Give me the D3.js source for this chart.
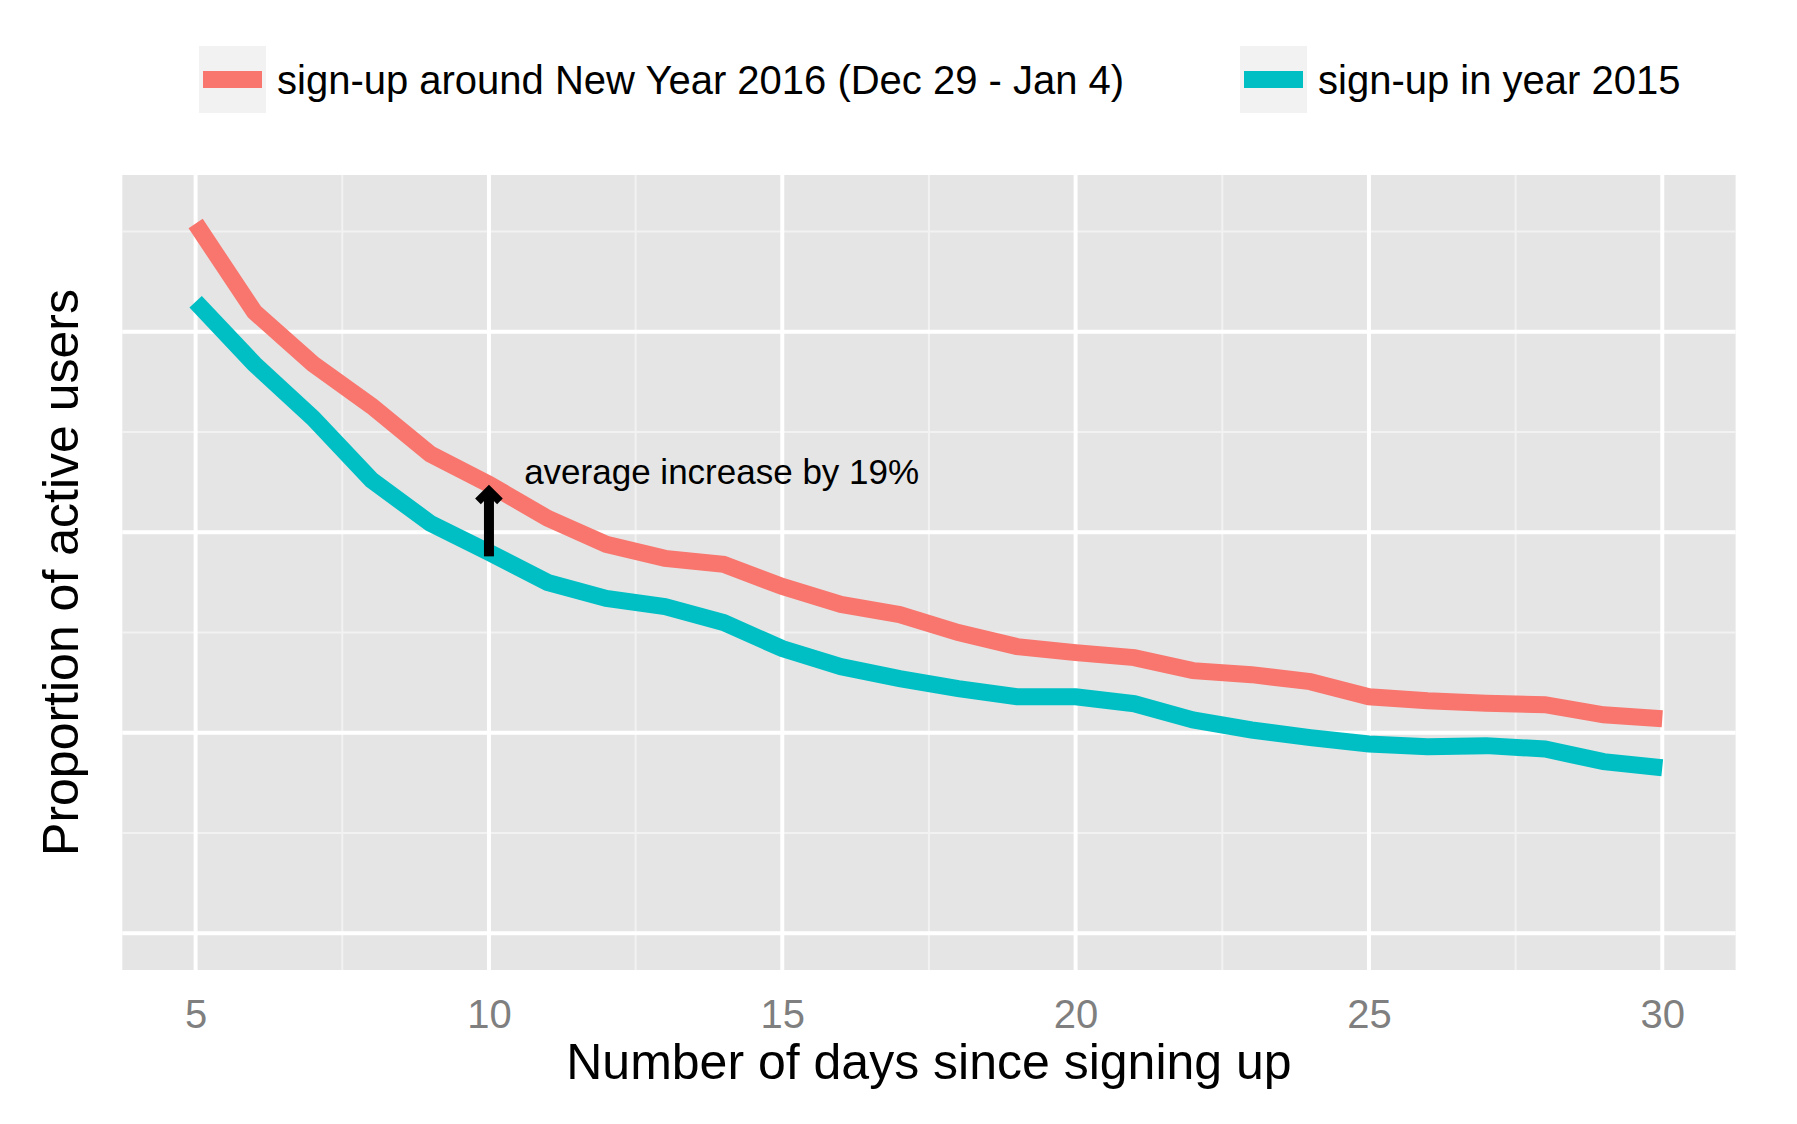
<!DOCTYPE html>
<html>
<head>
<meta charset="utf-8">
<script src="https://cdn.jsdelivr.net/npm/d3@7"></script>
<style>
  body { margin: 0; background: #fff; }
  text { font-family: "Liberation Sans", Arial, Helvetica, sans-serif; }
</style>
</head>
<body>
<script>
// data
var days = [5, 6, 7, 8, 9, 10, 11, 12, 13, 14, 15, 16, 17, 18, 19, 20, 21, 22, 23, 24, 25, 26, 27, 28, 29, 30];
var newYear2016 = [0.454, 0.410, 0.384, 0.363, 0.339, 0.324, 0.307, 0.294, 0.287, 0.284, 0.273, 0.264, 0.259,
                   0.250, 0.243, 0.240, 0.2375, 0.231, 0.229, 0.2255, 0.218, 0.216, 0.2147, 0.214, 0.209, 0.207];
var year2015 = [0.415, 0.384, 0.357, 0.326, 0.3045, 0.290, 0.275, 0.267, 0.263, 0.255, 0.242, 0.233, 0.227,
                0.222, 0.218, 0.218, 0.2145, 0.2064, 0.2014, 0.1976, 0.1944, 0.1931, 0.1936, 0.1919, 0.1856, 0.1826];
var seriesNames = ["sign-up around New Year 2016 (Dec 29 - Jan 4)", "sign-up in year 2015"];
var seriesColors = ["#F8766D", "#00BFC4"];
var xTicks = [5, 10, 15, 20, 25, 30];
var xMinorTicks = [7.5, 12.5, 17.5, 22.5, 27.5];
var yMajorTicks = [0.1, 0.2, 0.3, 0.4];
var yMinorTicks = [0.15, 0.25, 0.35, 0.45];
var xTitle = "Number of days since signing up";
var yTitle = "Proportion of active users";
var noteText = "average increase by 19%";
var noteDay = 10.6, noteValue = 0.324;
var arrowDay = 10, arrowFrom = 0.288, arrowTo = 0.3209;

var W = 1797, H = 1124;
var panel = { left: 122.3, right: 1735.6, top: 175, bottom: 970 };

var svg = d3.select(document.body).append("svg")
  .attr("width", W).attr("height", H);

var x = d3.scaleLinear().domain([3.75, 31.25]).range([panel.left, panel.right]);
var y = d3.scaleLinear().domain([0.0817, 0.4782]).range([panel.bottom, panel.top]);

// panel + grid
svg.append("rect")
  .attr("x", panel.left).attr("y", panel.top)
  .attr("width", panel.right - panel.left).attr("height", panel.bottom - panel.top)
  .attr("fill", "#E5E5E5");

function hLines(vals, color, w) {
  svg.append("g").selectAll("line").data(vals).enter().append("line")
    .attr("x1", panel.left).attr("x2", panel.right)
    .attr("y1", function(d) { return y(d); }).attr("y2", function(d) { return y(d); })
    .attr("stroke", color).attr("stroke-width", w);
}
function vLines(vals, color, w) {
  svg.append("g").selectAll("line").data(vals).enter().append("line")
    .attr("y1", panel.top).attr("y2", panel.bottom)
    .attr("x1", function(d) { return x(d); }).attr("x2", function(d) { return x(d); })
    .attr("stroke", color).attr("stroke-width", w);
}
hLines(yMinorTicks, "#F2F2F2", 2);
vLines(xMinorTicks, "#F2F2F2", 2);
hLines(yMajorTicks, "#FFFFFF", 4);
vLines(xTicks, "#FFFFFF", 4);

// series lines
var line = d3.line()
  .x(function(d) { return x(d[0]); })
  .y(function(d) { return y(d[1]); });

[newYear2016, year2015].forEach(function(vals, i) {
  svg.append("path")
    .datum(days.map(function(d, j) { return [d, vals[j]]; }))
    .attr("d", line)
    .attr("fill", "none")
    .attr("stroke", seriesColors[i])
    .attr("stroke-width", 17)
    .attr("stroke-linejoin", "miter")
    .attr("stroke-linecap", "butt");
});

// arrow + note
var ax = x(arrowDay), ay = y(arrowTo);
svg.append("line")
  .attr("x1", ax).attr("x2", ax)
  .attr("y1", y(arrowFrom)).attr("y2", ay)
  .attr("stroke", "#000").attr("stroke-width", 10);
svg.append("path")
  .attr("d", "M" + (ax - 11) + "," + (ay + 11) + "L" + ax + "," + ay + "L" + (ax + 11) + "," + (ay + 11))
  .attr("fill", "none").attr("stroke", "#000").attr("stroke-width", 8)
  .attr("stroke-linejoin", "miter");

svg.append("text")
  .attr("x", x(noteDay)).attr("y", y(noteValue))
  .attr("font-size", 35).attr("fill", "#000")
  .text(noteText);

// x axis labels
var xAxis = d3.axisBottom(x).tickValues(xTicks).tickSize(0).tickPadding(29.6);
var gx = svg.append("g").attr("transform", "translate(0," + panel.bottom + ")").call(xAxis);
gx.select(".domain").remove();
gx.selectAll("text")
  .attr("font-size", 40).attr("fill", "#7F7F7F")
  .style("font-family", "'Liberation Sans', Arial, sans-serif");

// axis titles
svg.append("text")
  .attr("x", (panel.left + panel.right) / 2).attr("y", 1079)
  .attr("text-anchor", "middle").attr("font-size", 50)
  .text(xTitle);

svg.append("text")
  .attr("transform", "translate(78," + (panel.top + panel.bottom) / 2 + ") rotate(-90)")
  .attr("text-anchor", "middle").attr("font-size", 50)
  .text(yTitle);

// legend
var legendX = [199, 1240];
seriesNames.forEach(function(name, i) {
  var g = svg.append("g").attr("transform", "translate(" + legendX[i] + ",46)");
  g.append("rect").attr("width", 67).attr("height", 67).attr("fill", "#F2F2F2");
  g.append("line")
    .attr("x1", 4).attr("x2", 63).attr("y1", 33.5).attr("y2", 33.5)
    .attr("stroke", seriesColors[i]).attr("stroke-width", 17);
  g.append("text")
    .attr("x", 78).attr("y", 48)
    .attr("font-size", 40).attr("fill", "#000")
    .text(name);
});
</script>
</body>
</html>
